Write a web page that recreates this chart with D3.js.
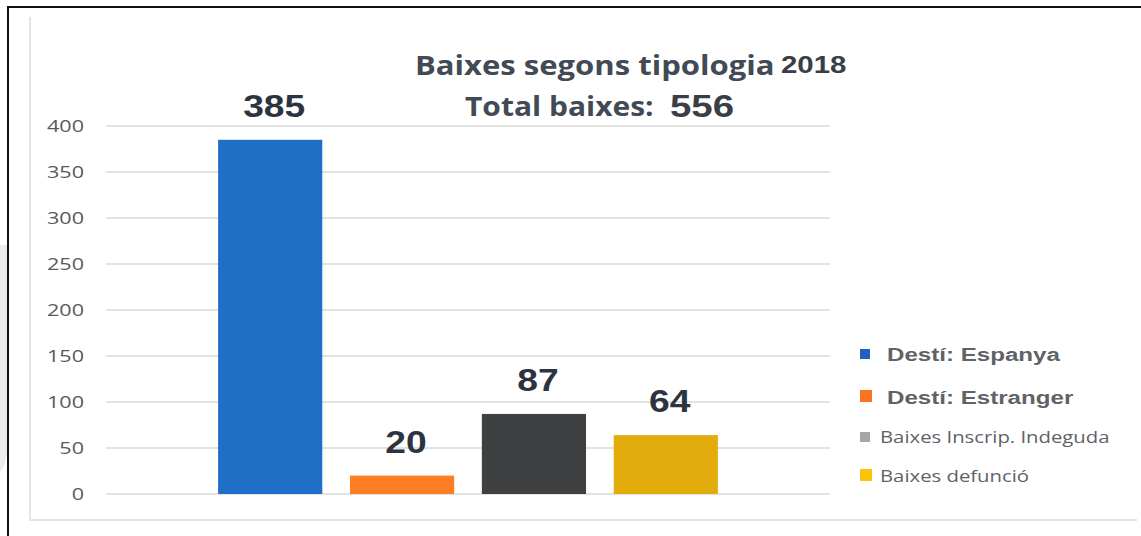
<!DOCTYPE html>
<html>
<head>
<meta charset="utf-8">
<script src="https://cdn.jsdelivr.net/npm/d3@7"></script>
<style>
  body { margin: 0; background: #fff; }
  svg { display: block; }
</style>
</head>
<body>
<div id="chart"></div>
<script>
// data
const categories = ["Destí: Espanya", "Destí: Estranger", "Baixes Inscrip. Indeguda", "Baixes defunció"];
const values = [385, 20, 87, 64];
const colors = ["#1f6fc6", "#fd7e23", "#3f4042", "#e2ad0c"];
const legendColors = ["#1f5fbf", "#fd7322", "#a6a6a6", "#fdc20b"];
const yTicks = [0, 50, 100, 150, 200, 250, 300, 350, 400];
const total = 556;
const year = "2018";

const width = 1141, height = 536;

// the source picture is stretched sideways, so text gets a horizontal scale
const at = (x, y, sx) => `translate(${x},${y}) scale(${sx},1)`;

const svg = d3.select("#chart").append("svg")
    .attr("width", width)
    .attr("height", height);

// grey smudge outside the frame on the left
svg.append("path")
    .attr("d", "M0,245 L7,245 L7,455 Q4,468 0,472 Z")
    .attr("fill", "#ececec");

// outer black frame (top + left visible)
svg.append("path")
    .attr("d", "M8,540 L8,7 L1145,7")
    .attr("fill", "none")
    .attr("stroke", "#111")
    .attr("stroke-width", 2);

// faint inner frame
svg.append("path")
    .attr("d", "M30,17 L30,520 L1137,520")
    .attr("fill", "none")
    .attr("stroke", "#e4e4e4")
    .attr("stroke-width", 2);

const x = d3.scaleBand()
    .domain(categories)
    .range([106, 830])
    .paddingInner(0.21)
    .paddingOuter(0.85);

const y = d3.scaleLinear()
    .domain([0, 400])
    .range([494, 126]);

// gridlines
svg.append("g")
    .selectAll("line")
    .data(yTicks)
    .join("line")
    .attr("x1", 106)
    .attr("x2", 830)
    .attr("y1", d => y(d))
    .attr("y2", d => y(d))
    .attr("stroke", "#e2e2e2")
    .attr("stroke-width", 2);

// y tick labels
svg.append("g")
    .selectAll("text")
    .data(yTicks)
    .join("text")
    .attr("transform", d => at(84, y(d), 1.27))
    .attr("dy", "0.36em")
    .attr("text-anchor", "end")
    .style("font-family", "'Open Sans', sans-serif")
    .style("font-size", "17px")
    .style("fill", "#595959")
    .text(d => d);

// bars
svg.append("g")
    .selectAll("rect")
    .data(values)
    .join("rect")
    .attr("x", (d, i) => x(categories[i]))
    .attr("width", x.bandwidth())
    .attr("y", d => y(d))
    .attr("height", d => y(0) - y(d))
    .attr("fill", (d, i) => colors[i]);

// value labels
svg.append("g")
    .selectAll("text")
    .data(values)
    .join("text")
    .attr("transform", (d, i) => at(x(categories[i]) + x.bandwidth() / 2 + 4, y(d) - 23, 1.2))
    .attr("text-anchor", "middle")
    .style("font-family", "'Liberation Sans', Arial, sans-serif")
    .style("font-weight", "bold")
    .style("font-size", "31px")
    .style("fill", "#2c3440")
    .text(d => d);

// title
svg.append("text")
    .attr("transform", at(415, 75, 1.15))
    .style("font-family", "'Open Sans', sans-serif")
    .style("font-weight", "bold")
    .style("font-size", "27px")
    .style("fill", "#414a55")
    .text("Baixes segons tipologia");
svg.append("text")
    .attr("transform", at(781, 73, 1.28))
    .style("font-family", "'Liberation Sans', Arial, sans-serif")
    .style("font-weight", "bold")
    .style("font-size", "23px")
    .style("fill", "#3a3f47")
    .text(year);

svg.append("text")
    .attr("transform", at(465, 116, 1.11))
    .style("font-family", "'Open Sans', sans-serif")
    .style("font-weight", "bold")
    .style("font-size", "27px")
    .style("fill", "#414a55")
    .text("Total baixes:");
svg.append("text")
    .attr("transform", at(670, 117, 1.2))
    .style("font-family", "'Liberation Sans', Arial, sans-serif")
    .style("font-weight", "bold")
    .style("font-size", "32px")
    .style("fill", "#3a3f47")
    .text(total);

// legend
const legendY = [354, 397, 437, 476];
const legend = svg.append("g")
    .selectAll("g")
    .data(categories)
    .join("g")
    .attr("transform", (d, i) => `translate(860,${legendY[i]})`);

legend.append("rect")
    .attr("x", 0)
    .attr("y", (d, i) => i === 1 || i === 3 ? -7 : -5)
    .attr("width", (d, i) => i === 1 || i === 3 ? 12 : 10)
    .attr("height", (d, i) => i === 1 || i === 3 ? 12 : 10)
    .attr("fill", (d, i) => legendColors[i]);

legend.append("text")
    .attr("transform", (d, i) => at(i < 2 ? 27 : 20, 0, 1.27))
    .attr("dy", "0.35em")
    .style("font-family", (d, i) => i < 2 ? "'Liberation Sans', Arial, sans-serif" : "'Open Sans', sans-serif")
    .style("font-weight", (d, i) => i < 2 ? "bold" : "normal")
    .style("font-size", (d, i) => i < 2 ? "19px" : "16px")
    .style("fill", "#5f6267")
    .text(d => d);
</script>
</body>
</html>
